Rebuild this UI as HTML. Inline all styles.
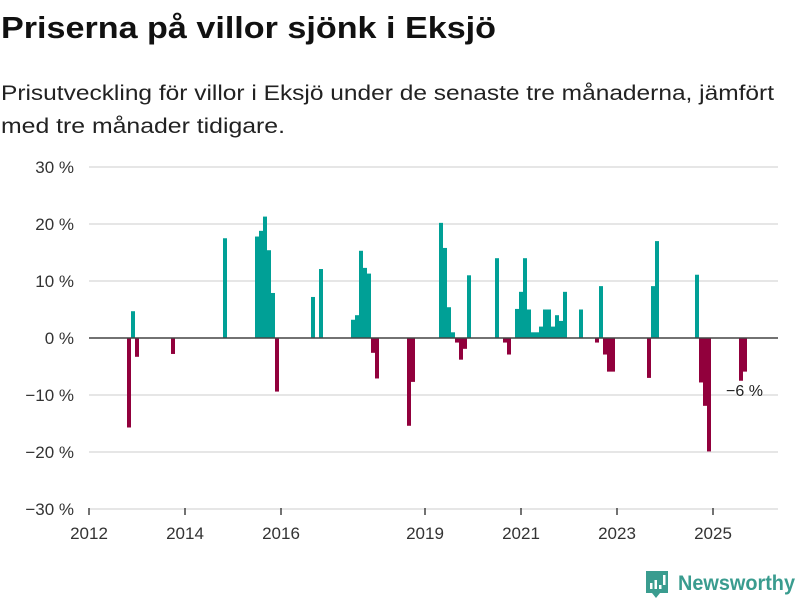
<!DOCTYPE html>
<html><head><meta charset="utf-8">
<style>
body{margin:0;background:#fff;}
svg text{font-family:"Liberation Sans",sans-serif;}
</style></head>
<body>
<svg id="chart" width="800" height="600" xmlns="http://www.w3.org/2000/svg">
<text x="1" y="38" font-size="31" font-weight="bold" fill="#111" textLength="495" lengthAdjust="spacingAndGlyphs">Priserna på villor sjönk i Eksjö</text>
<text x="1" y="100" font-size="21" fill="#222" textLength="773" lengthAdjust="spacingAndGlyphs">Prisutveckling för villor i Eksjö under de senaste tre månaderna, jämfört</text>
<text x="1" y="133" font-size="21" fill="#222" textLength="284" lengthAdjust="spacingAndGlyphs">med tre månader tidigare.</text>
<g id="grid"></g>
<g id="bars"></g>
<g id="axes"></g>
<text x="726" y="396" font-size="16" fill="#222">−6 %</text>
<g>
<path d="M646 571 h22 v22 h-8 l-4 5 l-4 -5 h-6 z" fill="#3a9c8f"/>
<rect x="650" y="583" width="2.5" height="6" fill="#fff"/>
<rect x="654.5" y="580" width="2.5" height="9" fill="#fff"/>
<rect x="659" y="585" width="2.5" height="4" fill="#fff"/>
<rect x="663" y="575" width="2.5" height="10" fill="#fff"/>
<text x="678" y="590" font-size="21" font-weight="bold" fill="#3a9c8f" textLength="117" lengthAdjust="spacingAndGlyphs">Newsworthy</text>
</g>
</svg>
<script>
const months = [10,11,12,21,34,42,43,44,45,46,47,56,58,66,67,68,69,70,71,72,80,81,88,89,90,91,92,93,94,95,102,104,105,107,108,109,110,111,112,113,114,115,116,117,118,119,123,127,128,129,130,131,140,141,142,152,153,154,155,163,164];
const values = [-15.7,4.7,-3.3,-2.8,17.5,17.8,18.8,21.3,15.4,7.9,-9.4,7.2,12.1,3.2,4.0,15.3,12.3,11.3,-2.6,-7.1,-15.4,-7.7,20.2,15.8,5.4,1.0,-0.8,-3.8,-1.9,11.0,14.0,-0.8,-2.9,5.1,8.1,14.0,5.0,1.0,1.0,2.0,5.0,5.0,2.0,4.0,3.0,8.1,5.0,-0.8,9.1,-2.9,-5.9,-5.9,-7.0,9.1,17.0,11.1,-7.8,-11.9,-19.9,-7.5,-5.9];
const yTicks = [30,20,10,0,-10,-20,-30];
const yearTicks = [2012,2014,2016,2019,2021,2023,2025];

const NS="http://www.w3.org/2000/svg";
function xS(m){return 89+4*m;}
function yS(v){return 338-v*5.7;}
function mk(tag,attrs,parent){const e=document.createElementNS(NS,tag);for(const k in attrs)e.setAttribute(k,attrs[k]);parent.appendChild(e);return e;}
const grid=document.getElementById('grid'),bars=document.getElementById('bars'),axes=document.getElementById('axes');
yTicks.forEach(t=>{
  if(t!==0){const l=mk('line',{x1:89,x2:778,y1:yS(t),y2:yS(t),stroke:'#ddd','stroke-width':1.5},grid);
  
  }
  const tx=mk('text',{x:74,y:yS(t)+6,'font-size':17,fill:'#333','text-anchor':'end'},axes);
  tx.textContent=(t<0?'−'+(-t):t)+' %';
  
  
});
months.forEach((m,i)=>{
  const v=values[i];
  const r=mk('rect',{x:xS(m)-2,width:4,y:v>=0?yS(v):yS(0),height:Math.abs(yS(v)-yS(0)),fill:v>=0?'#00a096':'#91003c'},bars);
  
  
});
const z=mk('line',{x1:89,x2:778,y1:yS(0),y2:yS(0),stroke:'#444','stroke-width':1.5},axes);


yearTicks.forEach(y=>{
  const x=xS((y-2012)*12);
  const t=mk('line',{x1:x,x2:x,y1:508,y2:515,stroke:'#444','stroke-width':1.5},axes);
  
  
  const tx=mk('text',{x:x,y:539,'font-size':17,fill:'#333','text-anchor':'middle'},axes);
  tx.textContent=y;
  
  
});
</script>
</body></html>
